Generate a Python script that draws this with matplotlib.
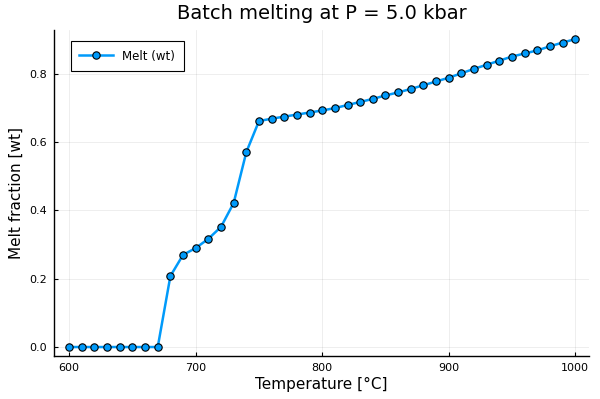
import numpy as np
import matplotlib
matplotlib.use("Agg")
import matplotlib.pyplot as plt

# temperatures (°C) and melt fraction
temperature = np.arange(600, 1001, 10)
melt = [
    0.0, 0.0, 0.0, 0.0, 0.0, 0.0, 0.0, 0.0,
    0.208, 0.270, 0.290, 0.317, 0.352, 0.422, 0.571, 0.662,
    0.669, 0.675, 0.681, 0.687, 0.693, 0.700, 0.709, 0.718,
    0.727, 0.737, 0.746, 0.756, 0.767, 0.778, 0.789, 0.802,
    0.815, 0.827, 0.839, 0.851, 0.860, 0.869, 0.881, 0.892,
    0.902,
]
x_ticks = [600, 700, 800, 900, 1000]
y_ticks = [0.0, 0.2, 0.4, 0.6, 0.8]

fig = plt.figure(figsize=(6, 3.99), dpi=100)
ax = fig.add_axes([0.09, 0.108, 0.892, 0.817])

ax.plot(temperature, melt, color="#009AFA", linewidth=1.8, marker="o",
        markersize=5.3, markerfacecolor="#009AFA", markeredgecolor="black",
        markeredgewidth=0.8, label="Melt (wt)", zorder=3)

ax.set_xlim(588, 1011)
ax.set_ylim(-0.026, 0.929)
ax.set_xticks(x_ticks)
ax.set_yticks(y_ticks)
ax.set_yticklabels([f"{v:.1f}" for v in y_ticks])

for side in ("top", "right"):
    ax.spines[side].set_visible(False)
for side in ("left", "bottom"):
    ax.spines[side].set_linewidth(1.0)

ax.tick_params(direction="in", length=3, width=0.8, labelsize=8, pad=5)
ax.grid(True, color="black", alpha=0.08, linewidth=0.6)
ax.set_axisbelow(True)

ax.set_xlabel("Temperature [°C]", fontsize=11, labelpad=3)
ax.set_ylabel("Melt fraction [wt]", fontsize=11, labelpad=4)
ax.set_title("Batch melting at P = 5.0 kbar", fontsize=14, pad=8)

leg = ax.legend(loc="upper left", fontsize=8.5, fancybox=False, framealpha=1,
                edgecolor="black", borderpad=0.75, handlelength=2.8,
                bbox_to_anchor=(0.02, 0.985))
leg.get_frame().set_linewidth(0.8)

fig.savefig("out.png", dpi=100)
